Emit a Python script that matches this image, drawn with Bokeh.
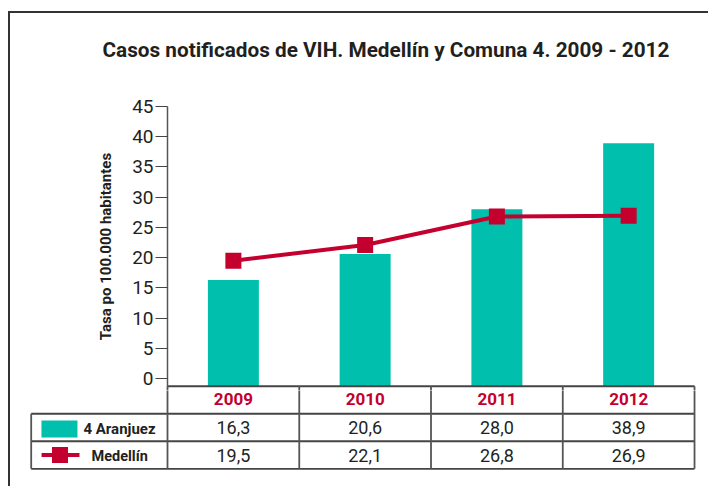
from bokeh.plotting import figure
from bokeh.models import Range1d, FixedTicker
from bokeh.layouts import column
from bokeh.core.properties import value
from bokeh.embed import file_html
from bokeh.resources import INLINE

# ---- data ----
years = ["2009", "2010", "2011", "2012"]
aranjuez = [16.3, 20.6, 28.0, 38.9]
medellin = [19.5, 22.1, 26.8, 26.9]
series_names = ["4 Aranjuez", "Medellín"]
y_ticks = [0, 5, 10, 15, 20, 25, 30, 35, 40, 45]
title_text = "Casos notificados de VIH. Medellín y Comuna 4. 2009 - 2012"
y_label = "Tasa po 100.000 habitantes"

TEAL = "#00BFAD"
RED = "#C4002F"
INK = "#231F20"
FONT = "Roboto"

def fmt(v):
    return f"{v:.1f}".replace(".", ",")

aranjuez_labels = [fmt(v) for v in aranjuez]
medellin_labels = [fmt(v) for v in medellin]

n = len(years)
xc = [i + 0.5 for i in range(n)]   # category centres on the shared numeric x scale
Y0 = -1.22     # baseline of the bars / top line of the table
YB = -1.93     # bottom of the chart frame
YT = 50.9      # top of the chart frame
XS, XE = -1.0474, 4.015
XL = -1.0345

# ---- chart ----
p = figure(width=698, height=377, x_range=Range1d(XS, XE),
           y_range=Range1d(YB, YT), output_backend="svg", toolbar_location=None,
           x_axis_location=None, min_border_left=19, min_border_right=12,
           min_border_top=57, min_border_bottom=0, outline_line_color=None,
           title=title_text)
p.grid.visible = False
p.title.align = "left"
p.title.offset = 73
p.title.standoff = 18
p.title.text_font = FONT
p.title.text_font_size = "20.75px"
p.title.text_font_style = "bold"
p.title.text_color = INK

p.vbar(x=xc, top=aranjuez, bottom=Y0, width=0.387, fill_color=TEAL, line_color=None)
p.line(x=xc, y=medellin, line_width=4, line_color=RED)
p.scatter(x=xc, y=medellin, marker="square", size=16, fill_color=RED, line_color=None)
# table grid continuation inside the chart frame
p.segment(x0=[0], y0=[Y0], x1=[n], y1=[Y0], line_color="#444", line_width=2)
gx = list(range(n + 1))
p.segment(x0=gx, y0=[YB] * len(gx), x1=gx, y1=[Y0] * len(gx), line_color="#555", line_width=1.8)

ax = p.yaxis[0]
ax.fixed_location = 0
ax.bounds = (Y0, 45)
ax.ticker = FixedTicker(ticks=y_ticks)
ax.major_label_text_font = FONT
ax.major_label_text_font_size = "19px"
ax.major_label_text_color = INK
ax.major_tick_out = 12
ax.major_tick_in = 0
ax.minor_tick_out = 0
ax.minor_tick_in = 0
ax.major_tick_line_color = "#444"
ax.major_tick_line_width = 1.2
ax.axis_line_color = "#555"
ax.axis_line_width = 1.5
ax.major_label_standoff = 2
ax.axis_label = y_label
ax.axis_label_text_font = FONT
ax.axis_label_text_font_size = "15px"
ax.axis_label_text_font_style = "bold"
ax.axis_label_text_color = INK
ax.axis_label_standoff = 14

# ---- table ----
t = figure(width=698, height=80, x_range=Range1d(XS, XE), y_range=Range1d(-0.062, 2.844),
           x_axis_location=None, y_axis_location=None, min_border_left=19, min_border_right=12,
           min_border_top=0, min_border_bottom=0, outline_line_color=None,
           toolbar_location=None, output_backend="svg")
t.grid.visible = False

t.segment(x0=[XL, XL, XL], y0=[0, 1, 2], x1=[n, n, n], y1=[0, 1, 2],
          line_color="#444", line_width=1.8)
vx = [XL] + gx
vy1 = [2] + [3] * (n + 1)
t.segment(x0=vx, y0=[0] * len(vx), x1=vx, y1=vy1, line_color="#555", line_width=1.8)

t.text(x=xc, y=[2.55] * n, text=years, text_color=RED, text_font=value(FONT),
       text_font_size="17px", text_font_style="bold", text_align="center", text_baseline="middle")
t.text(x=xc, y=[1.5] * n, text=aranjuez_labels, text_color=INK, text_font=value(FONT),
       text_font_size="18px", text_align="center", text_baseline="middle")
t.text(x=xc, y=[0.5] * n, text=medellin_labels, text_color=INK, text_font=value(FONT),
       text_font_size="18px", text_align="center", text_baseline="middle")

# legend column
t.rect(x=[-0.82], y=[1.45], width=36, height=17, width_units="screen", height_units="screen",
       fill_color=TEAL, line_color=None)
t.text(x=[-0.638], y=[1.45], text=[series_names[0]], text_color=INK, text_font=value(FONT),
       text_font_size="15px", text_font_style="bold", text_align="left", text_baseline="middle")
t.segment(x0=[-0.956], y0=[0.5], x1=[-0.668], y1=[0.5], line_color=RED, line_width=4)
t.scatter(x=[-0.816], y=[0.5], marker="square", size=16, fill_color=RED, line_color=None)
t.text(x=[-0.577], y=[0.45], text=[series_names[1]], text_color=INK, text_font=value(FONT),
       text_font_size="14.5px", text_font_style="bold", text_align="left", text_baseline="middle")

root = column(p, t, styles={"border-left": "2px solid #333", "border-top": "2px solid #333",
                            "margin-top": "11px", "margin-left": "8px", "padding-bottom": "16px"})

open("out.html", "w").write(file_html(root, INLINE))
